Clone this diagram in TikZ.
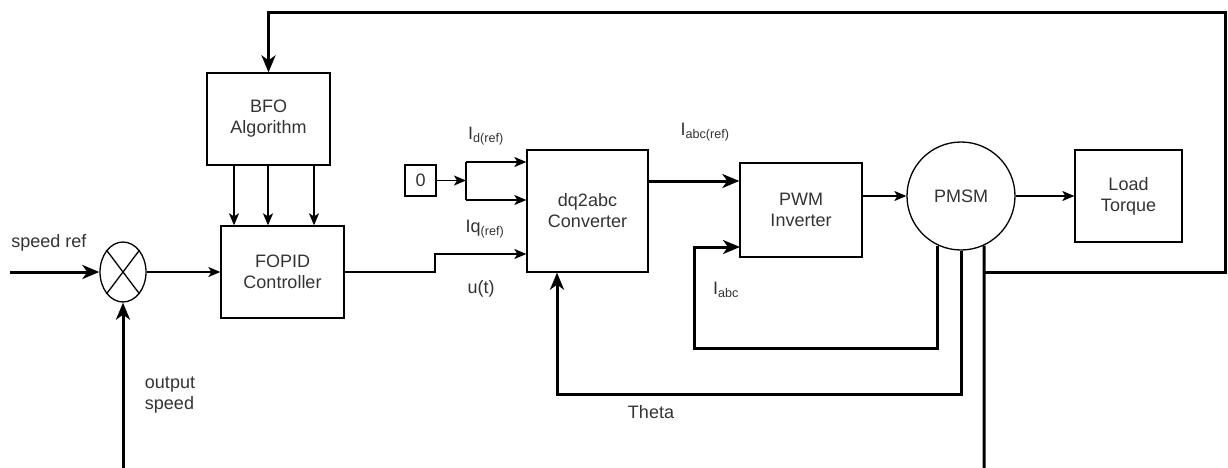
\documentclass[tikz,border=0pt]{standalone}
\usepackage{fontspec}
\setmainfont{Liberation Sans}
\usetikzlibrary{calc, shapes, positioning, arrows.meta}

\begin{document}
\begin{tikzpicture}[x=1pt, y=-1pt,
    every node/.style={font=\fontsize{18}{21}\selectfont, text=black!80},
    box/.style={draw, line width=1.3pt, align=center},
    sig/.style={line width=1.5pt, -{Stealth[length=12pt,width=10pt,inset=3pt]}},
    fb/.style={line width=3pt},
    fbarrow/.style={fb, -{Stealth[length=17pt,width=14pt,inset=5pt]}}]
    \useasboundingbox (0,0) rectangle (1228,468);

    % Blocks
    \node[draw, ellipse, line width=1.3pt, minimum width=46pt, minimum height=60pt, inner sep=0pt] (sum) at (123,272) {};
    \draw[line width=1.3pt] (sum.127) -- (sum.-53) (sum.53) -- (sum.-127);
    \node[box, minimum width=123pt, minimum height=92pt] (bfo) at (268.5,119) {BFO\\Algorithm};
    \node[box, minimum width=123pt, minimum height=92pt] (fopid) at (282.5,272) {FOPID\\Controller};
    \node[box, minimum width=31pt, minimum height=31pt, inner sep=0pt] (zero) at (420.5,180.5) {0};
    \node[box, minimum width=121pt, minimum height=122pt] (dq) at (587.5,211) {dq2abc\\Converter};
    \node[box, minimum width=122pt, minimum height=94pt] (pwm) at (801,210) {PWM\\Inverter};
    \node[draw, circle, line width=1.3pt, minimum size=108pt, inner sep=0pt] (pmsm) at (961,196) {PMSM};
    \node[box, minimum width=107pt, minimum height=92pt] (load) at (1128.5,196) {Load\\Torque};

    % Free ends and bends
    \coordinate (sref) at (10,272);
    \coordinate (ospd) at (123,468);
    \coordinate (bartop) at (466,162);
    \coordinate (barbot) at (466,200);
    \coordinate (ubend) at (435,254);
    \coordinate (iabcbot) at (694,348);
    \coordinate (iabcin) at (740,247);
    \coordinate (thbot) at (557,394);
    \coordinate (spdbot) at (984,468);
    \coordinate (topright) at (1225,13);

    % Labels
    \node (lsref) at (49,243) {speed ref};
    \node[align=left] (lospd) at (170,395) {output\\speed};
    \node (lid) at (486,136) {I\textsubscript{d(ref)}};
    \node (liq) at (485,229) {Iq\textsubscript{(ref)}};
    \node (lu) at (481,289) {u(t)};
    \node (liref) at (705,132) {I\textsubscript{abc(ref)}};
    \node (liabc) at (726,290) {I\textsubscript{abc}};
    \node (ltheta) at (651,412) {Theta};

    % Forward path
    \draw[fbarrow] (sref) -- (sum.west);
    \draw[fbarrow] (ospd) -- (sum.south);
    \draw[sig] (sum.east) -- (fopid.west);
    \foreach \x in {234,268,314}
        \draw[sig] (bfo.south -| {\x},0) -- (fopid.north -| {\x},0);
    \draw[sig] (fopid.east) -| (ubend) -- (ubend -| dq.west);
    \draw[sig] (zero.east) -- (zero.east -| bartop);
    \draw[line width=1.5pt] (bartop) -- (barbot);
    \draw[sig] (bartop) -- (bartop -| dq.west);
    \draw[sig] (barbot) -- (barbot -| dq.west);
    \draw[fbarrow] (dq.east |- 0,181) -- (pwm.west |- 0,181);
    \draw[sig] (pwm.east |- pmsm) -- (pmsm.west);
    \draw[sig] (pmsm.east) -- (load.west);

    % Feedback paths
    \draw[fbarrow] (pmsm.245) |- (iabcbot) |- (iabcin);
    \draw[fbarrow] (pmsm.south) |- (thbot) -- (thbot |- dq.south);
    \draw[fb] (pmsm.295) -- (spdbot);
    \draw[fbarrow] (pmsm.295 |- sum) -| (topright) -| (bfo.north);
\end{tikzpicture}
\end{document}
